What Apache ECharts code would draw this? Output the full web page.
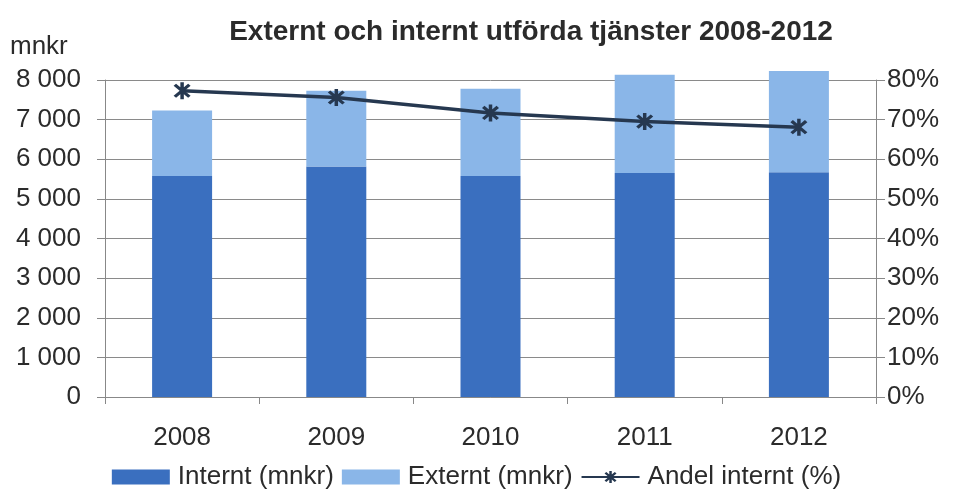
<!DOCTYPE html>
<html>
<head>
<meta charset="utf-8">
<script src="https://cdn.jsdelivr.net/npm/echarts@6/dist/echarts.min.js"></script>
<style>
  html, body { margin: 0; padding: 0; background: #fff; }
  #main { width: 953px; height: 494px; }
</style>
</head>
<body>
<div id="main"></div>
<script>
// data
var years = ['2008', '2009', '2010', '2011', '2012'];
var internt = [5580, 5815, 5580, 5650, 5675];
var externt = [1650, 1915, 2200, 2480, 2555];
var andelInternt = [77.3, 75.6, 71.7, 69.5, 68.1];

var FONT = '"Liberation Sans", Arial, sans-serif';
var LINE_COLOR = '#263850';

// asterisk marker: X plus a vertical bar
function starPath() {
    var t = 0.17;
    var parts = [];
    [90, 45, -45].forEach(function (deg) {
        var a = deg * Math.PI / 180;
        var dx = Math.cos(a), dy = Math.sin(a);
        var nx = -dy * t, ny = dx * t;
        var p = [
            [dx + nx, dy + ny], [dx - nx, dy - ny],
            [-dx - nx, -dy - ny], [-dx + nx, -dy + ny]
        ].map(function (q) { return (q[0] * 10).toFixed(2) + ',' + (q[1] * 10).toFixed(2); });
        parts.push('M' + p[0] + 'L' + p[1] + 'L' + p[2] + 'L' + p[3] + 'Z');
    });
    return 'path://' + parts.join('');
}

var chart = echarts.init(document.getElementById('main'));
chart.setOption({
    backgroundColor: '#fff',
    animation: false,
    title: {
        text: 'Externt och internt utförda tjänster 2008-2012',
        left: 526,
        textAlign: 'center',
        top: 13,
        textStyle: { fontFamily: FONT, fontSize: 28, fontWeight: 'bold', color: '#2b2b2b' }
    },
    graphic: [{
        type: 'text',
        left: 10,
        top: 34,
        style: { text: 'mnkr', font: '26px ' + FONT, fill: '#2b2b2b' }
    }],
    legend: {
        top: 464,
        left: 'center',
        itemWidth: 58,
        itemHeight: 15,
        itemGap: 8,
        padding: 0,
        textStyle: { fontFamily: FONT, fontSize: 26, color: '#2b2b2b', padding: [0, 0, 0, 3] },
        data: [
            { name: 'Internt (mnkr)', icon: 'rect' },
            { name: 'Externt (mnkr)', icon: 'rect' },
            { name: 'Andel internt (%)' }
        ]
    },
    grid: { left: 105, right: 77, top: 80, bottom: 97 },
    xAxis: {
        type: 'category',
        data: years,
        axisLine: { lineStyle: { color: '#888', width: 1 } },
        axisTick: { show: true, length: 7, lineStyle: { color: '#888' } },
        axisLabel: { fontFamily: FONT, fontSize: 26, color: '#2b2b2b', margin: 28 }
    },
    yAxis: [{
        type: 'value',
        min: 0,
        max: 8000,
        interval: 1000,
        axisLine: { show: true, lineStyle: { color: '#888' } },
        axisTick: { show: true, length: 8, lineStyle: { color: '#888' } },
        splitLine: { lineStyle: { color: '#8a8a8a', width: 1 } },
        axisLabel: {
            fontFamily: FONT, fontSize: 26, color: '#2b2b2b', margin: 24,
            formatter: function (v) { return String(v).replace(/\B(?=(\d{3})+(?!\d))/g, ' '); }
        }
    }, {
        type: 'value',
        min: 0,
        max: 80,
        interval: 10,
        position: 'right',
        axisLine: { show: true, lineStyle: { color: '#888' } },
        axisTick: { show: true, length: 9, lineStyle: { color: '#888' } },
        splitLine: { show: false },
        axisLabel: { fontFamily: FONT, fontSize: 26, color: '#2b2b2b', margin: 11, formatter: '{value}%' }
    }],
    series: [{
        name: 'Internt (mnkr)',
        type: 'bar',
        stack: 'tot',
        barWidth: 60,
        clip: false,
        itemStyle: { color: '#3a6fbf' },
        data: internt
    }, {
        name: 'Externt (mnkr)',
        type: 'bar',
        stack: 'tot',
        barWidth: 60,
        clip: false,
        itemStyle: { color: '#8ab6e8' },
        data: externt
    }, {
        name: 'Andel internt (%)',
        type: 'line',
        yAxisIndex: 1,
        symbol: starPath(),
        symbolSize: 17,
        lineStyle: { color: LINE_COLOR, width: 3.5 },
        itemStyle: { color: LINE_COLOR },
        data: andelInternt
    }]
});
</script>
</body>
</html>
